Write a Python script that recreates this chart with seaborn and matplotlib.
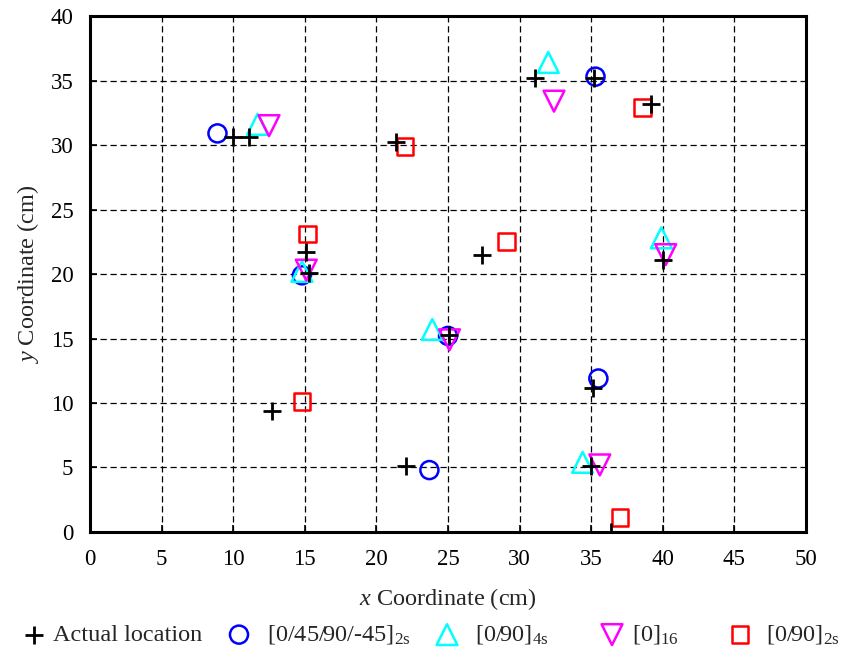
import matplotlib
matplotlib.use("Agg")
import matplotlib.pyplot as plt
import seaborn as sns

# Actual source locations
actual_x = [10.0, 11.1, 21.4, 31.1, 35.2, 39.2, 15.1, 15.3, 27.4, 40.0, 25.1, 35.1, 12.7, 22.1, 35.0, 36.4]
actual_y = [30.6, 30.6, 30.2, 35.2, 35.2, 33.2, 21.7, 20.1, 21.5, 21.1, 15.3, 11.2, 9.4, 5.1, 5.1, 0.0]

# Located positions for each laminate
quasi_x = [8.9, 35.3, 14.8, 25.0, 35.5, 23.7]
quasi_y = [30.9, 35.3, 19.9, 15.2, 11.9, 4.8]

cross4_x = [11.7, 32.0, 14.8, 23.9, 39.9, 34.4]
cross4_y = [31.6, 36.4, 20.2, 15.7, 22.8, 5.4]

uni_x = [12.5, 32.4, 15.1, 25.1, 40.2, 35.6]
uni_y = [31.5, 33.4, 20.3, 14.9, 21.5, 5.2]

cross2_x = [22.0, 38.6, 15.2, 29.1, 14.8, 37.0]
cross2_y = [29.9, 32.9, 23.1, 22.5, 10.1, 1.1]

x_ticks = list(range(0, 51, 5))
y_ticks = list(range(0, 41, 5))

sns.set_style("ticks")
TICK_FS = 16.5
FS = 17.5
plt.rcParams["font.family"] = ["Liberation Serif", "DejaVu Serif"]
plt.rcParams["mathtext.fontset"] = "custom"
plt.rcParams["mathtext.rm"] = "Liberation Serif"
plt.rcParams["mathtext.it"] = "Liberation Serif:italic"
plt.rcParams["font.size"] = FS

fig = plt.figure(figsize=(8.55, 6.51), dpi=100)
ax = fig.add_axes([0.1053, 0.1828, 0.8374, 0.7926])

LW = 1.8
series = [
    (quasi_x, quasi_y, "o", 13, "#0000FF", r"[0/45/90/-45]$_{\mathrm{2s}}$"),
    (cross4_x, cross4_y, "^", 15, "#00FFFF", r"[0/90]$_{\mathrm{4s}}$"),
    (uni_x, uni_y, "v", 15, "#FF00FF", r"[0]$_{\mathrm{16}}$"),
    (cross2_x, cross2_y, "s", 12, "#FF0000", r"[0/90]$_{\mathrm{2s}}$"),
]

sns.scatterplot(x=actual_x, y=actual_y, marker="+", s=13 ** 2, color="black",
                linewidth=2.0, ax=ax, zorder=5, label="Actual location")
for xs, ys, mk, ms, col, lab in series:
    sns.scatterplot(x=xs, y=ys, marker=mk, s=ms ** 2, color=col,
                    facecolor="none", edgecolor=col, linewidth=LW,
                    ax=ax, zorder=4, label=lab)

ax.set_xlim(0, 50)
ax.set_ylim(0, 40)
ax.set_xticks(x_ticks)
ax.set_yticks(y_ticks)
ax.grid(True, color="black", linestyle=(0, (5, 3)), linewidth=0.9)
ax.set_axisbelow(True)
for side in ["left", "right", "top", "bottom"]:
    ax.spines[side].set_visible(True)
    ax.spines[side].set_linewidth(2.2)
    ax.spines[side].set_color("black")
ax.tick_params(axis="both", direction="in", length=5, width=1.2,
               labelsize=TICK_FS, colors="black")
ax.tick_params(axis="x", pad=12.5)
ax.tick_params(axis="y", pad=12)

ax.set_xlabel(r"$\mathit{x}$ Coordinate (cm)", fontsize=FS, labelpad=11)
ax.set_ylabel(r"$\mathit{y}$ Coordinate (cm)", fontsize=FS, labelpad=7)

handles, labels = ax.get_legend_handles_labels()
if ax.legend_ is not None:
    ax.legend_.remove()

# Legend row beneath the axes: (marker centre px, text start px)
W, H = 855.0, 651.0
fs_px = FS * 100 / 72.0
slots = [(34, 53), (239, 267), (447, 475), (612, 632), (740, 766)]
y_leg = 1 - 635 / H
for h, l, (mc, ts) in zip(handles, labels, slots):
    left = mc - fs_px / 2
    pad = (ts - mc - fs_px / 2) / fs_px
    fig.legend([h], [l], loc="center left", bbox_to_anchor=(left / W, y_leg),
               frameon=False, borderpad=0, borderaxespad=0, handlelength=1.0,
               handletextpad=pad, fontsize=FS)

fig.savefig("out.png", dpi=100)
